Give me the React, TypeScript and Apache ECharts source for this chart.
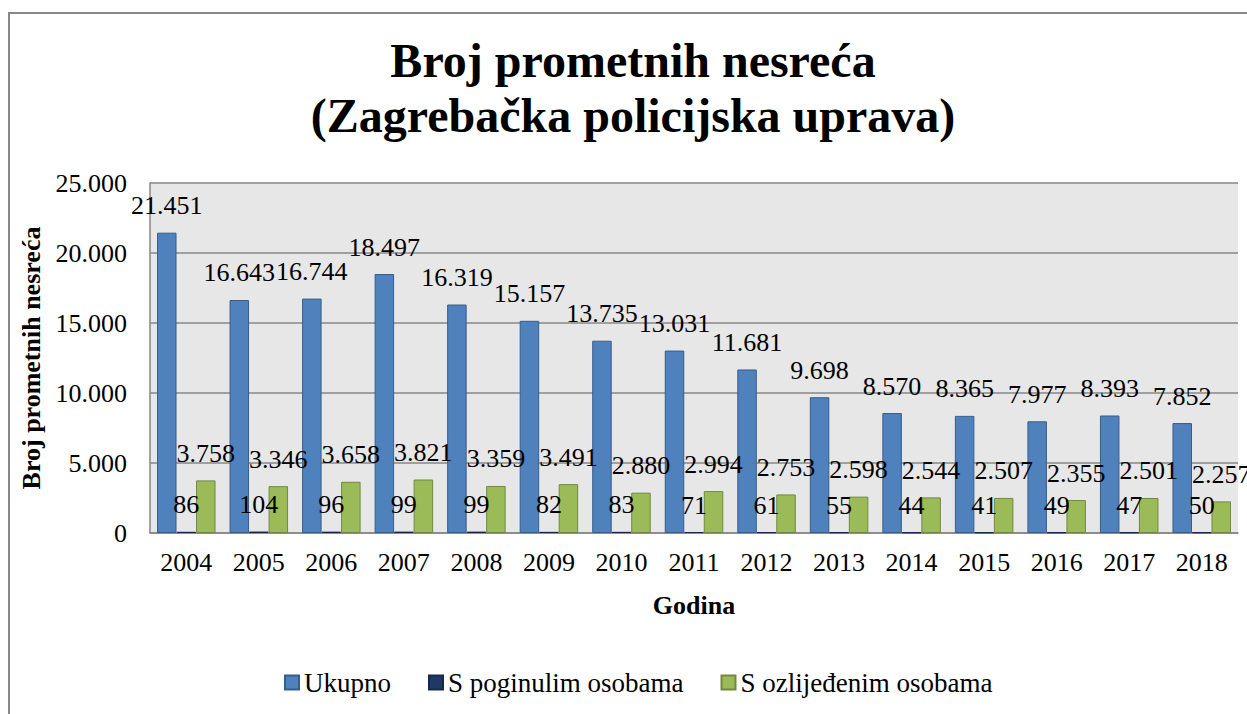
import React, { useEffect, useRef } from "react";
import * as echarts from "echarts";

const years = ["2004", "2005", "2006", "2007", "2008", "2009", "2010", "2011", "2012", "2013", "2014", "2015", "2016", "2017", "2018"];
const ukupno = [21451, 16643, 16744, 18497, 16319, 15157, 13735, 13031, 11681, 9698, 8570, 8365, 7977, 8393, 7852];
const poginuli = [86, 104, 96, 99, 99, 82, 83, 71, 61, 55, 44, 41, 49, 47, 50];
const ozlijedeni = [3758, 3346, 3658, 3821, 3359, 3491, 2880, 2994, 2753, 2598, 2544, 2507, 2355, 2501, 2257];
const seriesNames = ["Ukupno", "S poginulim osobama", "S ozlijeđenim osobama"];
const titleText = "Broj prometnih nesreća\n(Zagrebačka policijska uprava)";
const yAxisName = "Broj prometnih nesreća";
const xAxisName = "Godina";

const FONT = "'Liberation Serif', 'Times New Roman', serif";
const fmt = (v: number) => String(Math.round(v)).replace(/\B(?=(\d{3})+(?!\d))/g, ".");

export default function App() {
  const ref = useRef<HTMLDivElement>(null);
  useEffect(() => {
    if (!ref.current) return;
    const chart = echarts.init(ref.current, undefined, { renderer: "svg" });
    const labelCfg = {
      show: true,
      position: "top" as const,
      distance: 14,
      fontFamily: FONT,
      fontSize: 26,
      lineHeight: 26,
      color: "#000",
      formatter: (p: any) => fmt(p.value),
    };
    const mk = (name: string, data: number[], color: string, border: string) => ({
      name,
      type: "bar" as const,
      data,
      barWidth: 19.5,
      barGap: "0%",
      itemStyle: { color, borderColor: border, borderWidth: 1 },
      label: labelCfg,
    });
    chart.setOption({
      animation: false,
      backgroundColor: "#ffffff",
      textStyle: { fontFamily: FONT },
      title: {
        text: titleText,
        left: 633,
        top: 33,
        textAlign: "center",
        padding: 0,
        textStyle: { fontFamily: FONT, fontSize: 48, fontWeight: "bold", lineHeight: 55, color: "#000" },
      },
      graphic: [
        {
          type: "rect",
          shape: { x: 9, y: 13, width: 1400, height: 900 },
          style: { fill: "none", stroke: "#878787", lineWidth: 2 },
          silent: true,
          z: -1,
        },
      ],
      legend: {
        data: seriesNames,
        left: 284,
        top: 669,
        itemWidth: 14,
        itemHeight: 14,
        itemGap: 37,
        icon: "rect",
        padding: 0,
        textStyle: { fontFamily: FONT, fontSize: 27, lineHeight: 27, color: "#000" },
      },
      grid: {
        left: 150,
        top: 183,
        right: 9,
        bottom: 181,
        show: true,
        backgroundColor: "#e7e7e7",
        borderWidth: 0,
        containLabel: false,
      },
      xAxis: {
        type: "category",
        data: years,
        name: xAxisName,
        nameLocation: "middle",
        nameGap: 59,
        nameTextStyle: { fontFamily: FONT, fontSize: 26, fontWeight: "bold", lineHeight: 26, color: "#000", verticalAlign: "top" },
        axisLine: { show: true, lineStyle: { color: "#878787", width: 1.5 } },
        axisTick: { show: false },
        axisLabel: { fontFamily: FONT, fontSize: 26, lineHeight: 26, color: "#000", margin: 16 },
      },
      yAxis: {
        type: "value",
        min: 0,
        max: 25000,
        interval: 5000,
        name: yAxisName,
        nameLocation: "middle",
        nameGap: 104,
        nameRotate: 90,
        nameTextStyle: { fontFamily: FONT, fontSize: 26, fontWeight: "bold", lineHeight: 26, color: "#000" },
        axisLine: { show: true, lineStyle: { color: "#878787", width: 1.5 } },
        axisTick: { show: false },
        splitLine: { show: true, lineStyle: { color: "#878787", width: 1.5 } },
        axisLabel: { fontFamily: FONT, fontSize: 26, color: "#000", margin: 23, formatter: (v: number) => fmt(v) },
      },
      series: [
        mk(seriesNames[0], ukupno, "#4f81bd", "#385d8a"),
        mk(seriesNames[1], poginuli, "#1f3864", "#17294a"),
        mk(seriesNames[2], ozlijedeni, "#9bbb59", "#71893f"),
      ],
    });
    return () => chart.dispose();
  }, []);
  return <div ref={ref} style={{ position: "fixed", left: 0, top: 0, width: 1247, height: 714 }} />;
}
